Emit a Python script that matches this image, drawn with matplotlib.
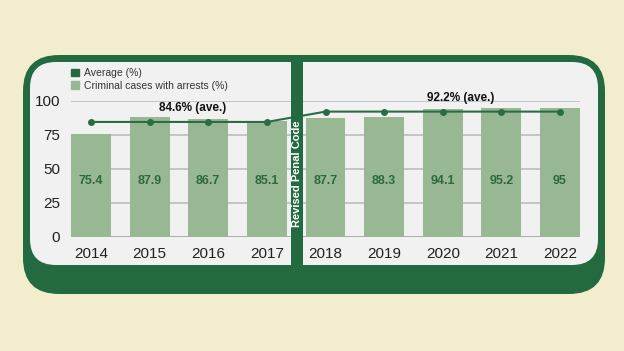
import matplotlib.pyplot as plt
from matplotlib.patches import FancyBboxPatch, Rectangle, Patch

plt.rcParams['font.family'] = ['Liberation Sans', 'DejaVu Sans']

# data
years = ['2014', '2015', '2016', '2017', '2018', '2019', '2020', '2021', '2022']
arrests = [75.4, 87.9, 86.7, 85.1, 87.7, 88.3, 94.1, 95.2, 95]
average = [84.6, 84.6, 84.6, 84.6, 92.2, 92.2, 92.2, 92.2, 92.2]
yticks = [0, 25, 50, 75, 100]

cream = '#f2eecd'
dark = '#246a40'
bar_col = '#98b894'
panel = '#f1f1f1'

W, H = 624, 351
fig = plt.figure(figsize=(W / 100, H / 100), dpi=100, facecolor=cream)

# background frame, pixel coordinates
bg = fig.add_axes([0, 0, 1, 1], zorder=0)
bg.set_xlim(0, W); bg.set_ylim(H, 0); bg.axis('off')
bg.add_patch(FancyBboxPatch((23, 55), 582, 239, boxstyle='round,pad=0,rounding_size=36',
                            fc=dark, ec='none'))
bg.add_patch(FancyBboxPatch((30, 62), 568, 203, boxstyle='round,pad=0,rounding_size=26',
                            fc=panel, ec='none'))

# chart
ax = fig.add_axes([71 / W, (H - 237) / H, 509 / W, 136 / H], zorder=1)
ax.patch.set_alpha(0)
x = range(len(years))
ax.bar(x, arrests, width=0.68, color=bar_col, zorder=2)
for i, v in enumerate(arrests):
    ax.text(i, 41, f'{v:g}', ha='center', va='center', fontsize=9, fontweight='bold',
            color='#2c6a3e', zorder=3)
ax.plot(x, average, color='#2b6c44', lw=1.5, marker='o', ms=4, zorder=4)
ax.set_xlim(-0.34, len(years) - 1 + 0.34)
ax.set_ylim(0, 100)
ax.set_yticks(yticks)
ax.set_xticks(list(x))
ax.set_xticklabels(years)
ax.tick_params(length=0, labelsize=11, colors='#222222')
ax.tick_params(axis='y', pad=8)
ax.tick_params(axis='x', pad=7)
ax.grid(axis='y', color='#bdbdbd', lw=1.2, zorder=0)
ax.set_axisbelow(True)
for s in ax.spines.values():
    s.set_visible(False)
ax.axhline(0, color='#aaaaaa', lw=1.2, zorder=1)

ax.text(1.74, 95, '84.6% (ave.)', ha='center', va='center', fontsize=8.5,
        fontweight='bold', color='#111111', clip_on=False)
ax.text(6.3, 102.5, '92.2% (ave.)', ha='center', va='center', fontsize=8.5,
        fontweight='bold', color='#111111', clip_on=False)

handles = [Patch(color=dark, label='Average (%)'),
           Patch(color=bar_col, label='Criminal cases with arrests (%)')]
fig.legend(handles=handles, loc='upper left', bbox_to_anchor=(66 / W, (H - 63) / H),
           frameon=False, fontsize=7.5, handlelength=0.75, handleheight=0.75,
           handletextpad=0.5, labelspacing=0.25, borderpad=0, labelcolor='#333333')

# divider
fg = fig.add_axes([0, 0, 1, 1], zorder=3)
fg.set_xlim(0, W); fg.set_ylim(H, 0); fg.axis('off')
fg.add_patch(Rectangle((291, 56), 12, 212, fc=dark, ec='none'))
fg.text(297, 174, 'Revised Penal Code', rotation=90, ha='center', va='center',
        fontsize=8, fontweight='bold', color='white')

fig.savefig('out.png', dpi=100, facecolor=cream)
